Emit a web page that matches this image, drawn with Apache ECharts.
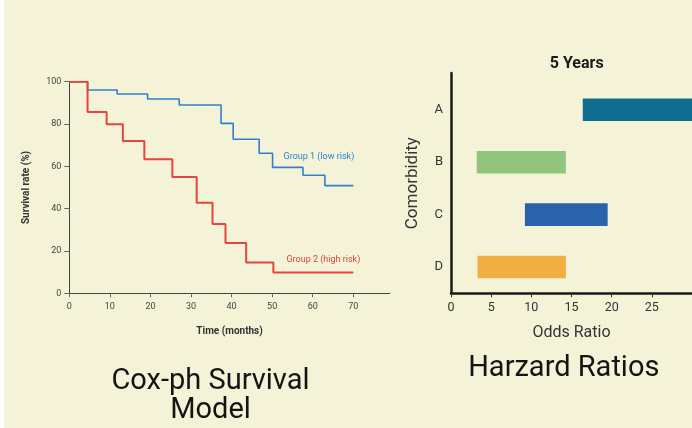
<!DOCTYPE html>
<html><head><meta charset="utf-8">
<script src="https://cdn.jsdelivr.net/npm/echarts@6/dist/echarts.min.js"></script>
<style>
html,body{margin:0;padding:0;background:#fff;}
#c{width:692px;height:428px;background:linear-gradient(to right,#ffffff 4px,#F4F3D7 4px);}
</style></head>
<body><div id="c"></div>
<script>
// Kaplan-Meier style survival steps (time in months, survival %)
const blueTimes = [0, 4.5, 11.8, 19.3, 27.1, 37.4, 40.4, 46.8, 50.1, 57.6, 63.0, 70];
const blueSurv  = [100, 96.1, 94.2, 91.8, 89.0, 80.3, 72.8, 66.2, 59.5, 55.8, 50.9, 50.9];
const redTimes  = [0, 4.5, 9.2, 13.2, 18.5, 25.4, 31.4, 35.3, 38.5, 43.6, 50.3, 70];
const redSurv   = [100, 85.7, 79.9, 72.0, 63.3, 55.0, 42.8, 32.8, 23.8, 14.5, 9.8, 9.8];
const survXTicks = [0, 10, 20, 30, 40, 50, 60, 70];
const survYTicks = [0, 20, 40, 60, 80, 100];

// Hazard ratio ranges
const comorbidities = ['A', 'B', 'C', 'D'];
const orStart = [16.4, 3.2, 9.2, 3.3];
const orEnd   = [30.0, 14.3, 19.5, 14.3];
const orTicks = [0, 5, 10, 15, 20, 25];
const barColors = ['#0F6E8F', '#93C47E', '#2B63AB', '#F2B044'];

const FONT = 'Roboto';
const chart = echarts.init(document.getElementById('c'));

const zip = (a, b) => a.map((v, i) => [v, b[i]]);
const hrData = comorbidities.map((c, i) => ({
  value: [i, orStart[i], orEnd[i]],
  itemStyle: { color: barColors[i] }
}));

chart.setOption({
  backgroundColor: 'transparent',
  textStyle: { fontFamily: FONT },
  animation: false,
  grid: [
    { left: 69.3, top: 81.7, width: 79 * 4.057, bottom: 134.7 },
    { left: 451, top: 73, right: -5, bottom: 134.7 }
  ],
  title: {
    text: '5 Years', left: 571.7, top: 51, textAlign: 'center',
    textStyle: { fontFamily: FONT, fontSize: 16, fontWeight: 'bold', color: '#1a1a1a' }
  },
  xAxis: [
    {
      gridIndex: 0, type: 'value', min: 0, max: 79, interval: 10,
      name: 'Time (months)', nameLocation: 'middle', nameGap: 33,
      nameTextStyle: { fontFamily: FONT, fontSize: 10, fontWeight: 'bold', color: '#333' },
      axisLine: { lineStyle: { color: '#444', width: 1 } },
      axisTick: { show: true, length: 4, lineStyle: { color: '#666' }, customValues: survXTicks },
      axisLabel: { customValues: survXTicks, fontSize: 9, color: '#444', margin: 9 },
      splitLine: { show: false }
    },
    {
      gridIndex: 1, type: 'value', min: 0, max: 30, interval: 5,
      name: 'Odds Ratio', nameLocation: 'middle', nameGap: 32,
      nameTextStyle: { fontFamily: FONT, fontSize: 16, color: '#333' },
      axisLine: { onZero: false, lineStyle: { color: '#1a1a1a', width: 2.5 } },
      axisTick: { show: true, length: 4, customValues: orTicks, lineStyle: { color: '#333', width: 1 } },
      axisLabel: { customValues: orTicks, fontSize: 12.5, color: '#333', margin: 8 },
      splitLine: { show: false }
    }
  ],
  yAxis: [
    {
      gridIndex: 0, type: 'value', min: 0, max: 100, interval: 20,
      name: 'Survival rate (%)', nameLocation: 'middle', nameGap: 38,
      nameTextStyle: { fontFamily: FONT, fontSize: 10, fontWeight: 'bold', color: '#333' },
      axisLine: { show: true, lineStyle: { color: '#444', width: 1 } },
      axisTick: { show: true, length: 5, lineStyle: { color: '#666' } },
      axisLabel: { fontSize: 9, color: '#444', margin: 8 },
      splitLine: { show: false }
    },
    {
      gridIndex: 1, type: 'value', min: -0.7, max: 3.5, inverse: true,
      name: 'Comorbidity', nameLocation: 'middle', nameGap: 30,
      nameTextStyle: { fontFamily: FONT, fontSize: 17, color: '#333' },
      axisLine: { show: true, onZero: false, lineStyle: { color: '#1a1a1a', width: 2.5 } },
      axisTick: { show: false },
      axisLabel: {
        customValues: [0, 1, 2, 3], fontSize: 13, color: '#333', margin: 8,
        formatter: v => comorbidities[Math.round(v)]
      },
      splitLine: { show: false }
    }
  ],
  series: [
    {
      name: 'Group 1 (low risk)', type: 'line', step: 'end',
      xAxisIndex: 0, yAxisIndex: 0, showSymbol: false, symbol: 'none',
      data: zip(blueTimes, blueSurv),
      lineStyle: { color: '#2F80D2', width: 1.6 },
      endLabel: {
        show: true, formatter: '{a}', color: '#2F80D2', fontSize: 9,
        align: 'right', offset: [-7, -29]
      }
    },
    {
      name: 'Group 2 (high risk)', type: 'line', step: 'end',
      xAxisIndex: 0, yAxisIndex: 0, showSymbol: false, symbol: 'none',
      data: zip(redTimes, redSurv),
      lineStyle: { color: '#E5453B', width: 2 },
      endLabel: {
        show: true, formatter: '{a}', color: '#D9443A', fontSize: 9,
        align: 'right', offset: [-1, -13]
      }
    },
    {
      type: 'custom', xAxisIndex: 1, yAxisIndex: 1,
      encode: { x: [1, 2], y: 0 },
      data: hrData,
      renderItem: function (params, api) {
        const y = api.value(0);
        const p1 = api.coord([api.value(1), y]);
        const p2 = api.coord([api.value(2), y]);
        const h = api.size([0, 1])[1] * 0.43;
        const shape = echarts.graphic.clipRectByRect(
          { x: p1[0], y: p1[1] - h / 2, width: p2[0] - p1[0], height: h },
          { x: params.coordSys.x, y: params.coordSys.y, width: params.coordSys.width, height: params.coordSys.height }
        );
        return shape && { type: 'rect', shape: shape, style: { fill: api.visual('color') } };
      }
    }
  ],
  graphic: [
    { type: 'text', x: 210.5, y: 382, style: { text: 'Cox-ph Survival', fontFamily: FONT, fontSize: 29, fill: '#141414', textAlign: 'center', textVerticalAlign: 'middle' } },
    { type: 'text', x: 210.5, y: 411, style: { text: 'Model', fontFamily: FONT, fontSize: 29, fill: '#141414', textAlign: 'center', textVerticalAlign: 'middle' } },
    { type: 'text', x: 563.8, y: 369, style: { text: 'Harzard Ratios', fontFamily: FONT, fontSize: 29, fill: '#141414', textAlign: 'center', textVerticalAlign: 'middle' } }
  ]
});
</script>
</body></html>
